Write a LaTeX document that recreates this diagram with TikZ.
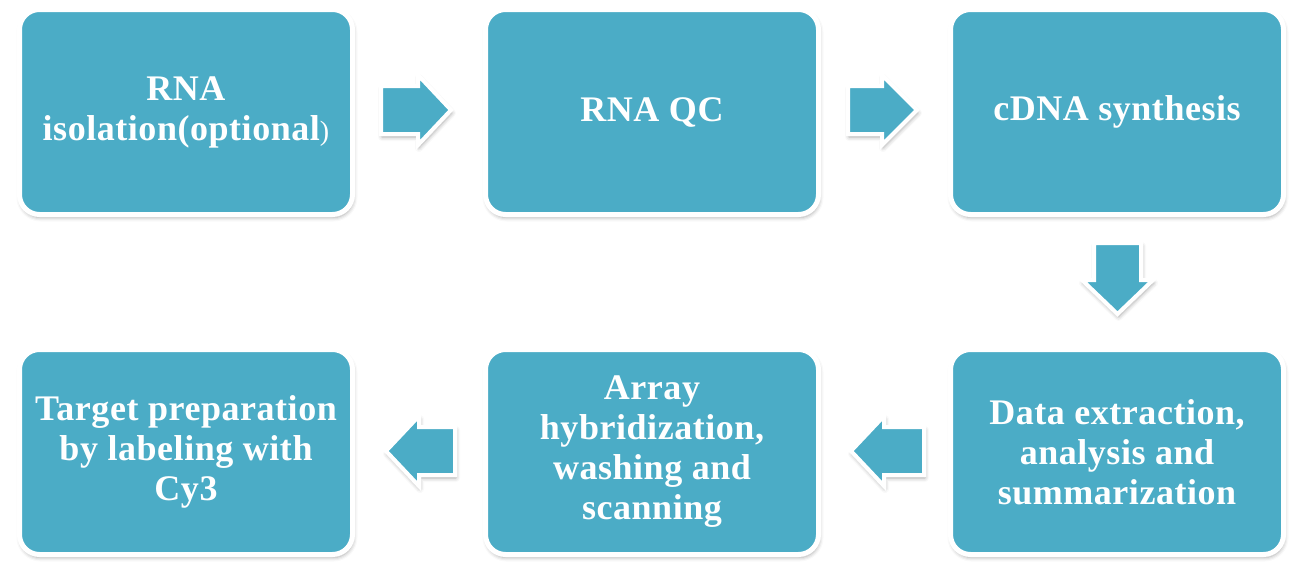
\documentclass[tikz,border=0pt]{standalone}
\usepackage{fontspec}
\setmainfont{Liberation Serif}
\newfontfamily\boxfont[LetterSpace=1.5]{Liberation Serif}
\usetikzlibrary{shadows.blur}
\definecolor{tealfive}{HTML}{4BACC6}
\tikzset{
  softshadow/.style={blur shadow={shadow xshift=1pt, shadow yshift=-3pt, shadow blur radius=4pt, shadow opacity=35}},
  stepbox/.style={draw=white, line width=5pt, fill=tealfive, rounded corners=20pt,
    minimum width=333pt, minimum height=205pt, inner sep=0pt, softshadow,
    text=white, align=center, font=\boxfont\fontsize{36}{40}\selectfont\bfseries},
  blockarrow/.style={draw=white, line width=4pt, fill=tealfive, line join=miter, softshadow},
}
\begin{document}
\begin{tikzpicture}[x=1pt, y=-1pt]
\useasboundingbox (0,0) rectangle (1295,568);
% boxes
\node[stepbox] (b1) at (186,112) {RNA\\isolation(optional{\fontsize{28}{40}\selectfont\mdseries )}};
\node[stepbox] (b2) at (652,112) {RNA QC};
\node[stepbox] (b3) at (1117,112) {cDNA synthesis};
\node[stepbox] (b6) at (1117,452) {Data extraction,\\analysis and\\summarization};
\node[stepbox] (b5) at (652,452) {Array\\hybridization,\\washing and\\scanning};
\node[stepbox] (b4) at (186,452) {Target preparation\\by labeling with\\Cy3};
% block arrows
\draw[blockarrow] (381,86) -- (418,86) -- (418,75) -- (451,110) -- (418,145) -- (418,134) -- (381,134) -- cycle;
\draw[blockarrow] (848,86) -- (882,86) -- (882,75) -- (917,110) -- (882,145) -- (882,134) -- (848,134) -- cycle;
\draw[blockarrow] (1094,243) -- (1141,243) -- (1141,280) -- (1153,280) -- (1117.5,314) -- (1082,280) -- (1094,280) -- cycle;
\draw[blockarrow] (455,427) -- (419,427) -- (419,416) -- (386,451) -- (419,486) -- (419,475) -- (455,475) -- cycle;
\draw[blockarrow] (924,427) -- (884,427) -- (884,416) -- (851,451) -- (884,486) -- (884,475) -- (924,475) -- cycle;
\end{tikzpicture}
\end{document}
